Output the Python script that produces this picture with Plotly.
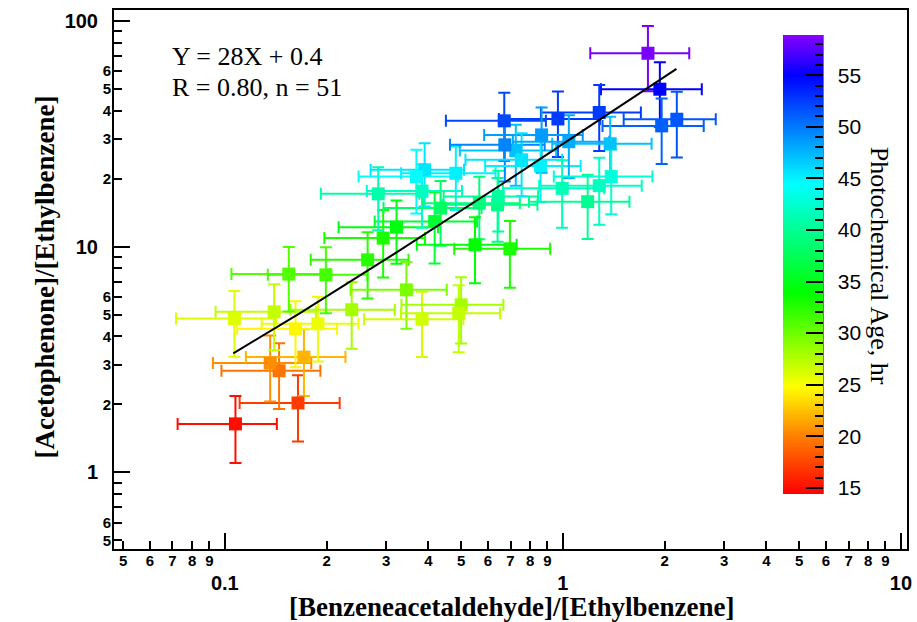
import numpy as np
import plotly.graph_objects as go
from plotly.colors import sample_colorscale

# ---- data ----
x_vals = [0.1075, 0.1646, 0.1447, 0.1362, 0.1714, 0.1618, 0.1885, 0.1067, 0.1399, 0.2373,
          0.1546, 0.199, 0.2645, 0.3444, 0.383, 0.500, 0.492, 0.322, 0.294, 0.4175,
          0.4347, 0.2843, 0.390, 0.3687, 0.383, 0.4823, 0.641, 0.644, 0.566, 0.5496,
          0.697, 1.785, 1.936, 1.96, 2.173, 1.281, 0.9667, 0.6708, 0.865, 1.38,
          0.7256, 0.6734, 0.755, 0.859, 1.0414, 1.39, 1.281, 0.995, 1.184]
y_vals = [1.64, 2.03, 2.82, 3.05, 3.24, 4.32, 4.55, 4.80, 5.14, 5.25,
          7.55, 7.49, 8.73, 6.43, 4.77, 5.52, 5.07, 12.18, 10.9, 12.9,
          14.79, 17.11, 21.85, 20.4, 17.6, 21.1, 15.3, 16.64, 15.56, 10.17,
          9.77, 71.7, 49.7, 34.2, 36.6, 39.2, 36.7, 36.0, 31.2, 28.5,
          26.6, 28.2, 24.2, 22.75, 29.1, 20.4, 18.6, 18.1, 15.8]
x_err = [0.035, 0.054, 0.047, 0.044, 0.056, 0.053, 0.060, 0.035, 0.046, 0.081,
         0.050, 0.065, 0.085, 0.109, 0.125, 0.167, 0.160, 0.105, 0.097, 0.14,
         0.14, 0.092, 0.12, 0.12, 0.12, 0.15, 0.20, 0.20, 0.18, 0.18,
         0.22, 0.58, 0.64, 0.65, 0.66, 0.42, 0.32, 0.22, 0.28, 0.45,
         0.23, 0.21, 0.24, 0.27, 0.33, 0.45, 0.43, 0.33, 0.39]
y_err = [0.54, 0.66, 0.91, 0.99, 1.06, 1.40, 1.45, 1.55, 1.67, 1.72,
         2.40, 2.43, 2.85, 2.10, 1.53, 1.80, 1.67, 3.8, 3.6, 4.5,
         4.7, 5.3, 6.8, 6.4, 5.5, 6.6, 4.8, 5.0, 4.8, 3.3,
         3.2, 23.0, 15.8, 11.0, 11.8, 12.7, 11.8, 12.0, 10.0, 9.0,
         8.0, 8.8, 7.5, 7.0, 9.0, 6.5, 6.1, 6.0, 5.0]
ages = [15.0, 17.0, 19.5, 20.5, 22.0, 24.5, 25.5, 26.0, 27.0, 28.0,
        31.0, 31.5, 32.5, 29.5, 26.5, 28.0, 27.0, 34.5, 33.0, 36.0,
        38.0, 41.0, 45.5, 44.5, 42.0, 45.0, 39.5, 40.5, 39.0, 34.0,
        33.0, 58.5, 55.0, 51.0, 51.5, 52.5, 52.5, 52.0, 48.5, 47.0,
        47.0, 49.5, 45.5, 45.0, 48.0, 43.0, 42.0, 41.5, 40.0]

fit_slope = 28.0
fit_intercept = 0.4
fit_text = ["Y = 28X + 0.4", "R = 0.80, n = 51"]

x_major = [0.1, 1, 10]
x_major_text = ["0.1", "1", "10"]
x_minor = [0.05, 0.06, 0.07, 0.08, 0.09, 0.2, 0.3, 0.4, 0.5, 0.6, 0.7, 0.8, 0.9,
           2, 3, 4, 5, 6, 7, 8, 9]
x_minor_text = ["5", "6", "7", "8", "9", "2", "3", "4", "5", "6", "7", "8", "9",
                "2", "3", "4", "5", "6", "7", "8", "9"]
y_major = [1, 10, 100]
y_major_text = ["1", "10", "100"]
y_minor = [0.5, 0.6, 0.7, 0.8, 0.9, 2, 3, 4, 5, 6, 7, 8, 9, 20, 30, 40, 50, 60, 70, 80, 90]
y_minor_text = ["5", "6", "", "", "", "2", "3", "4", "5", "6", "", "", "",
                "2", "3", "4", "5", "6", "", "", ""]
cb_major = [15, 20, 25, 30, 35, 40, 45, 50, 55]

cmin, cmax = 14.4, 58.9
colorscale = [[0.0, "rgb(255,0,0)"], [0.126, "rgb(255,128,0)"], [0.234, "rgb(255,255,0)"],
              [0.438, "rgb(0,255,0)"], [0.676, "rgb(0,255,255)"], [0.912, "rgb(0,0,255)"],
              [1.0, "rgb(136,0,255)"]]

# ---- geometry ----
W, H = 917, 622
L, R, T, B = 114, 5, 10, 73
pw, ph = W - L - R, H - T - B
xr = [np.log10(0.047), 1.018]
yr = [-0.339, 2.047]

SANS = "Liberation Sans"
SERIF = "Liberation Serif"

fig = go.Figure()

# error bars, one trace per point (per-point colours)
for xv, yv, ex, ey, a in zip(x_vals, y_vals, x_err, y_err, ages):
    col = sample_colorscale(colorscale, [(a - cmin) / (cmax - cmin)])[0]
    fig.add_trace(go.Scatter(
        x=[xv], y=[yv], mode="markers", marker=dict(size=1, color=col, opacity=0),
        error_x=dict(type="data", array=[ex], symmetric=True, color=col, thickness=2, width=6),
        error_y=dict(type="data", array=[ey], symmetric=True, color=col, thickness=2, width=6),
        showlegend=False, hoverinfo="skip"))

cb_common = dict(x=(787 - L) / pw, xanchor="left", y=(549 - 264.5) / ph, yanchor="middle",
                 len=459 / ph, lenmode="fraction", thickness=40, thicknessmode="pixels",
                 xpad=0, ypad=0, outlinewidth=0, ticks="inside", tickcolor="black")

# markers with colour scale (main colorbar, major ticks + labels)
fig.add_trace(go.Scatter(
    x=x_vals, y=y_vals, mode="markers",
    marker=dict(symbol="square", size=13, color=ages, colorscale=colorscale,
                cmin=cmin, cmax=cmax, line=dict(width=0), showscale=True,
                colorbar=dict(**cb_common, tickvals=cb_major,
                              ticktext=["\u00a0\u2009" + str(v) for v in cb_major],
                              ticklen=17, tickwidth=2,
                              tickfont=dict(family=SANS, size=21, color="black"))),
    showlegend=False, hoverinfo="skip"))

# transparent colorbar carrying the minor ticks
fig.add_trace(go.Scatter(
    x=[x_vals[0]], y=[y_vals[0]], mode="markers",
    marker=dict(size=1, opacity=0, color=[ages[0]], cmin=cmin, cmax=cmax,
                colorscale=[[0, "rgba(0,0,0,0)"], [1, "rgba(0,0,0,0)"]], showscale=True,
                colorbar=dict(**cb_common, tickmode="linear", tick0=15, dtick=1, ticklen=8,
                              tickwidth=1.5, showticklabels=False)),
    showlegend=False, hoverinfo="skip"))

# fit line
xf = np.logspace(np.log10(0.1059), np.log10(2.168), 60)
fig.add_trace(go.Scatter(x=xf, y=fit_slope * xf + fit_intercept, mode="lines",
                         line=dict(color="black", width=2), showlegend=False, hoverinfo="skip"))

# dummy trace on the overlay axes (minor ticks)
fig.add_trace(go.Scatter(x=[1], y=[1], xaxis="x2", yaxis="y2", mode="markers",
                         marker=dict(opacity=0, size=1), showlegend=False, hoverinfo="skip"))

fig.update_layout(
    width=W, height=H, margin=dict(l=L, r=R, t=T, b=B),
    paper_bgcolor="white", plot_bgcolor="white",
    xaxis=dict(type="log", range=xr, showgrid=False, zeroline=False,
               showline=True, linecolor="black", linewidth=2, mirror=True,
               ticks="inside", ticklen=16, tickwidth=2, tickcolor="black",
               tickvals=x_major, ticktext=x_major_text, ticklabelstandoff=15,
               tickfont=dict(family=SANS, size=20, color="black", weight="bold")),
    xaxis2=dict(type="log", range=xr, overlaying="x", anchor="y", side="bottom",
                showgrid=False, zeroline=False, showline=False,
                ticks="inside", ticklen=8, tickwidth=2, tickcolor="black",
                tickvals=x_minor, ticktext=x_minor_text, ticklabelstandoff=1,
                tickfont=dict(family=SANS, size=15, color="black", weight="bold")),
    yaxis=dict(type="log", range=yr, showgrid=False, zeroline=False,
               showline=True, linecolor="black", linewidth=2, mirror=True,
               ticks="inside", ticklen=16, tickwidth=2, tickcolor="black",
               tickvals=y_major, ticktext=y_major_text, ticklabelstandoff=10,
               tickfont=dict(family=SANS, size=20, color="black", weight="bold")),
    yaxis2=dict(type="log", range=yr, overlaying="y", anchor="x", side="left",
                showgrid=False, zeroline=False, showline=False,
                ticks="inside", ticklen=8, tickwidth=2, tickcolor="black",
                tickvals=y_minor, ticktext=y_minor_text, ticklabelstandoff=2,
                tickfont=dict(family=SANS, size=15, color="black", weight="bold")),
)

def px_x(p):
    return (p - L) / pw

def px_y(p):
    return (H - B - p) / ph

ann = [
    dict(text=fit_text[0], x=px_x(170), y=px_y(57), xanchor="left", yanchor="middle",
         font=dict(family=SERIF, size=26, color="black")),
    dict(text=fit_text[1], x=px_x(170), y=px_y(87), xanchor="left", yanchor="middle",
         font=dict(family=SERIF, size=26, color="black")),
    dict(text="[Benzeneacetaldehyde]/[Ethylbenzene]", x=px_x(514), y=px_y(607),
         xanchor="center", yanchor="middle",
         font=dict(family=SERIF, size=27, color="black", weight="bold")),
    dict(text="[Acetophenone]/[Ethylbenzene]", x=px_x(45), y=px_y(277), textangle=-90,
         xanchor="center", yanchor="middle",
         font=dict(family=SERIF, size=27, color="black", weight="bold")),
    dict(text="Photochemical Age, hr", x=px_x(885), y=px_y(266), textangle=90,
         xanchor="center", yanchor="middle",
         font=dict(family=SERIF, size=26, color="black")),
]
for a in ann:
    fig.add_annotation(xref="paper", yref="paper", showarrow=False, **a)

# black axis line on the right edge of the palette
fig.add_shape(type="line", xref="paper", yref="paper",
              x0=px_x(827), x1=px_x(827), y0=px_y(494), y1=px_y(35),
              line=dict(color="black", width=2))

fig.write_html("out.html", config={"displayModeBar": False},
               post_script="document.body.style.margin='0';")
